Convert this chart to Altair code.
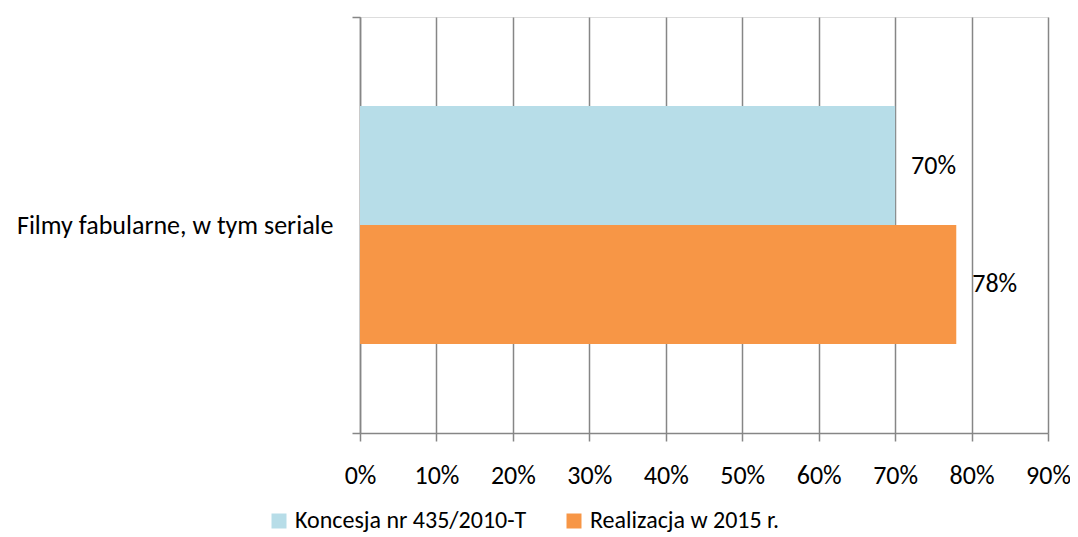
import altair as alt
import pandas as pd

categories = ["Filmy fabularne, w tym seriale"]
series = ["Koncesja nr 435/2010-T", "Realizacja w 2015 r."]
values = [0.70, 0.78]
colors = ["#B7DDE8", "#F79646"]
x_ticks = [0, 0.1, 0.2, 0.3, 0.4, 0.5, 0.6, 0.7, 0.8, 0.9]

df = pd.DataFrame({
    "category": [categories[0]] * len(series),
    "series": series,
    "value": values,
})

FONT = "Carlito, Calibri, Lato, sans-serif"
FS = 26
GRAY = "#868686"

base = alt.Chart(df).encode(
    y=alt.Y(
        "category:N",
        title=None,
        scale=alt.Scale(paddingInner=0, paddingOuter=0),
        axis=alt.Axis(
            domain=True, domainColor=GRAY, domainWidth=1.5,
            ticks=True, tickBand="extent", tickSize=8, tickColor=GRAY, tickWidth=1.5,
            labelFontSize=FS, labelFont=FONT, labelColor="#000000",
            labelPadding=19, grid=False, labelLimit=400,
        ),
    ),
    yOffset=alt.YOffset(
        "series:N",
        sort=series,
        scale=alt.Scale(paddingInner=0, paddingOuter=0.748),
    ),
)

bars = base.mark_bar().encode(
    x=alt.X(
        "value:Q",
        title=None,
        scale=alt.Scale(domain=[0, 0.9], nice=False),
        axis=alt.Axis(
            values=x_ticks, format=".0%",
            grid=True, gridColor=GRAY, gridWidth=1.5,
            domain=True, domainColor=GRAY, domainWidth=1.5,
            ticks=True, tickSize=8, tickColor=GRAY, tickWidth=1.5,
            labelFontSize=FS, labelFont=FONT, labelColor="#000000",
            labelPadding=21, labelFlush=False, labelOverlap=False,
        ),
    ),
    color=alt.Color(
        "series:N",
        sort=series,
        scale=alt.Scale(domain=series, range=colors),
        legend=alt.Legend(
            title=None, orient="none", direction="horizontal",
            legendX=-93, legendY=492,
            symbolType="square", symbolSize=225, symbolStrokeWidth=0,
            labelFontSize=24, labelFont=FONT, labelColor="#000000",
            labelOffset=4, columnPadding=35, labelLimit=400,
        ),
    ),
)

labels = base.mark_text(
    align="left", baseline="middle", dx=16, fontSize=FS, font=FONT, color="#000000"
).encode(
    x=alt.X("value:Q"),
    text=alt.Text("value:Q", format=".0%"),
)

chart = alt.layer(bars, labels).properties(
    width=688,
    height=416,
    autosize=alt.AutoSizeParams(type="none"),
    padding={"left": 352, "top": 9, "right": 22, "bottom": 104},
).configure_view(stroke=None).configure(background="#ffffff")

chart.save("out.html", embed_options={"renderer": "svg", "actions": False})
